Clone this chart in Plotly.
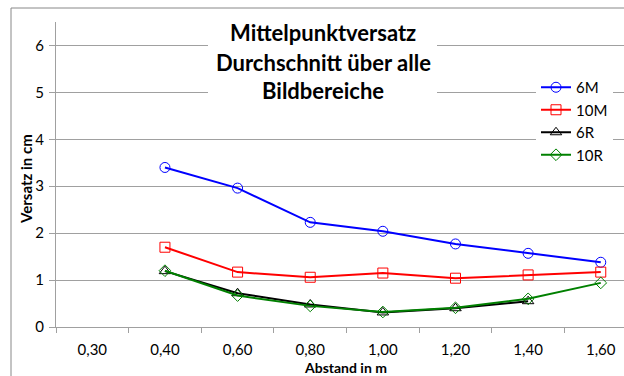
import plotly.graph_objects as go

# Category axis: distances in m
abstand = ["0,30", "0,40", "0,60", "0,80", "1,00", "1,20", "1,40", "1,60"]

# Average centre offset in cm per series
versatz_6m = [None, 3.40, 2.96, 2.23, 2.04, 1.77, 1.57, 1.38]
versatz_10m = [None, 1.70, 1.17, 1.06, 1.15, 1.04, 1.11, 1.17]
versatz_6r = [None, 1.19, 0.72, 0.48, 0.31, 0.40, 0.55, None]
versatz_10r = [None, 1.20, 0.67, 0.45, 0.32, 0.41, 0.60, 0.94]

series = [
    ("6M", versatz_6m, "#0000FF", "circle-open", 10),
    ("10M", versatz_10m, "#FF0000", "square-open", 10),
    ("6R", versatz_6r, "#000000", "triangle-up-open", 10),
    ("10R", versatz_10r, "#008000", "diamond-open", 9),
]

FONT = "Lato"
GRID = "#A0A0A0"

fig = go.Figure()
for name, vals, color, symbol, size in series:
    fig.add_trace(go.Scatter(
        x=abstand, y=vals, name=name, mode="lines+markers",
        line=dict(color=color, width=2),
        marker=dict(symbol=symbol, size=size, color=color, line=dict(width=1, color=color)),
    ))

W, H = 624, 376
ML, MR, MT, MB = 56, 0, 22, 49
PW, PH = W - ML - MR, H - MT - MB


def px(x):
    return (x - ML) / PW


def py(y):
    return (H - MB - y) / PH


fig.update_layout(
    width=W, height=H,
    margin=dict(l=ML, r=MR, t=MT, b=MB),
    paper_bgcolor="white", plot_bgcolor="white",
    font=dict(family=FONT, size=15, color="#000000"),
    showlegend=True,
    legend=dict(
        x=px(536), y=py(71), xanchor="left", yanchor="top",
        bgcolor="white", borderwidth=0,
        font=dict(family=FONT, size=15),
    ),
    xaxis=dict(
        type="category", range=[-0.5, 7.32],
        tickson="boundaries", ticks="outside", ticklen=5, tickcolor=GRID,
        ticklabelstandoff=9,
        showline=True, linecolor=GRID, linewidth=1,
        showgrid=False, zeroline=False,
        tickfont=dict(family=FONT, size=15),
    ),
    yaxis=dict(
        range=[0, 6.5], dtick=1, tick0=0,
        ticks="outside", ticklen=6, tickcolor=GRID,
        ticklabelstandoff=2,
        showline=True, linecolor=GRID, linewidth=1,
        showgrid=True, gridcolor=GRID, gridwidth=1,
        zeroline=False,
        tickfont=dict(family=FONT, size=15),
    ),
)

# Chart frame
fig.add_shape(type="rect", xref="paper", yref="paper",
              x0=px(11), x1=px(660), y0=py(400), y1=py(8),
              line=dict(color="#888888", width=1), fillcolor="rgba(0,0,0,0)", layer="above")

# Legend backdrop hiding the gridlines behind it
fig.add_shape(type="rect", xref="paper", yref="paper",
              x0=px(520), x1=px(640), y0=py(168), y1=py(72),
              line=dict(width=0), fillcolor="white", layer="between")

# Title box
fig.add_shape(type="rect", xref="paper", yref="paper",
              x0=px(208), x1=px(437), y0=py(108), y1=py(12),
              line=dict(width=0), fillcolor="white", layer="above")

for text, yc in [("Mittelpunktversatz", 32), ("Durchschnitt über alle", 62), ("Bildbereiche", 91)]:
    fig.add_annotation(text=f"<b>{text}</b>", xref="paper", yref="paper",
                       x=px(323), y=py(yc), xanchor="center", yanchor="middle",
                       showarrow=False, font=dict(family=FONT, size=22, color="#000000"))

# Axis titles
fig.add_annotation(text="<b>Abstand in m</b>", xref="paper", yref="paper",
                   x=px(345), y=py(367), xanchor="center", yanchor="middle",
                   showarrow=False, font=dict(family=FONT, size=14))
fig.add_annotation(text="<b>Versatz in cm</b>", xref="paper", yref="paper",
                   x=px(26), y=py(179), xanchor="center", yanchor="middle", textangle=-90,
                   showarrow=False, font=dict(family=FONT, size=15))

fig.write_html("out.html")
